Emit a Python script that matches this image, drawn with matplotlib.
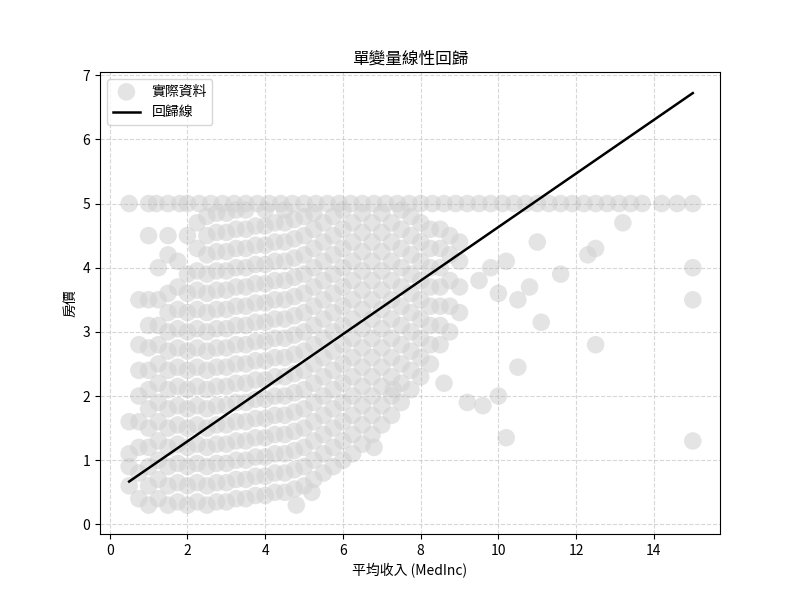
import matplotlib
matplotlib.use("Agg")
import matplotlib.pyplot as plt
import numpy as np

plt.rcParams['font.family'] = ['Noto Sans CJK TC', 'DejaVu Sans']
plt.rcParams['axes.unicode_minus'] = False

# dense cloud, column by column (MedInc, list of house values)
col_x = [0.5, 0.75, 1.0, 1.25, 1.5, 1.75, 2.0, 2.25, 2.5, 2.75, 3.0, 3.25, 3.5, 3.75,
         4.0, 4.25, 4.5, 4.75, 5.0, 5.25, 5.5, 5.75, 6.0, 6.25, 6.5, 6.75, 7.0, 7.25,
         7.5, 7.75, 8.0, 8.25, 8.5, 8.75, 9.0]
col_y = [
    [0.6, 0.9, 1.1, 1.6],
    [0.4, 0.8, 1.2, 1.6, 2.0, 2.4, 2.8, 3.5],
    [0.3, 0.6, 0.9, 1.2, 1.5, 1.8, 2.1, 2.4, 2.75, 3.1, 3.5, 4.5],
    [0.4, 0.7, 1.0, 1.3, 1.6, 1.9, 2.2, 2.5, 2.8, 3.1, 3.5, 4.0],
    [0.3, 0.6, 0.9, 1.2, 1.5, 1.8, 2.1, 2.4, 2.7, 3.0, 3.3, 3.6, 4.2, 4.5],
    [0.35, 0.65, 0.95, 1.25, 1.55, 1.85, 2.15, 2.45, 2.75, 3.05, 3.35, 3.7, 4.1],
    [0.3, 0.6, 0.9, 1.2, 1.5, 1.8, 2.1, 2.4, 2.7, 3.0, 3.3, 3.6, 3.9, 4.5],
    [0.35, 0.65, 0.95, 1.25, 1.55, 1.85, 2.15, 2.45, 2.75, 3.05, 3.35, 3.65, 3.95, 4.3, 4.7],
    [0.3, 0.6, 0.9, 1.2, 1.5, 1.8, 2.1, 2.4, 2.7, 3.0, 3.3, 3.6, 3.9, 4.2, 4.5, 4.8],
    [0.35, 0.65, 0.95, 1.25, 1.55, 1.85, 2.15, 2.45, 2.75, 3.05, 3.35, 3.65, 3.95, 4.25, 4.55, 4.85],
    [0.35, 0.65, 0.95, 1.25, 1.55, 1.85, 2.15, 2.45, 2.75, 3.05, 3.35, 3.65, 3.95, 4.25, 4.55, 4.85],
    [0.4, 0.7, 1.0, 1.3, 1.6, 1.9, 2.2, 2.5, 2.8, 3.1, 3.4, 3.7, 4.0, 4.3, 4.6, 4.9],
    [0.4, 0.7, 1.0, 1.3, 1.6, 1.9, 2.2, 2.5, 2.8, 3.1, 3.4, 3.7, 4.0, 4.3, 4.6, 4.9],
    [0.45, 0.75, 1.05, 1.35, 1.65, 1.95, 2.25, 2.55, 2.85, 3.15, 3.45, 3.75, 4.05, 4.35, 4.65],
    [0.45, 0.75, 1.05, 1.35, 1.65, 1.95, 2.25, 2.55, 2.85, 3.15, 3.45, 3.75, 4.05, 4.35, 4.65, 4.9],
    [0.5, 0.8, 1.1, 1.4, 1.7, 2.0, 2.3, 2.6, 2.9, 3.2, 3.5, 3.8, 4.1, 4.4, 4.7],
    [0.5, 0.8, 1.1, 1.4, 1.7, 2.0, 2.3, 2.6, 2.9, 3.2, 3.5, 3.8, 4.1, 4.4, 4.7, 4.9],
    [0.55, 0.85, 1.15, 1.45, 1.75, 2.05, 2.35, 2.65, 2.95, 3.25, 3.55, 3.85, 4.15, 4.45, 4.75],
    [0.6, 0.9, 1.2, 1.5, 1.8, 2.1, 2.4, 2.7, 3.0, 3.3, 3.6, 3.9, 4.2, 4.5, 4.8],
    [0.7, 1.0, 1.3, 1.6, 1.9, 2.2, 2.5, 2.8, 3.1, 3.4, 3.7, 4.0, 4.3, 4.6, 4.85],
    [0.8, 1.1, 1.4, 1.7, 2.0, 2.3, 2.6, 2.9, 3.2, 3.5, 3.8, 4.1, 4.4, 4.7],
    [0.9, 1.2, 1.5, 1.8, 2.1, 2.4, 2.7, 3.0, 3.3, 3.6, 3.9, 4.2, 4.5, 4.8],
    [1.0, 1.3, 1.6, 1.9, 2.2, 2.5, 2.8, 3.1, 3.4, 3.7, 4.0, 4.3, 4.6, 4.9],
    [1.1, 1.4, 1.7, 2.0, 2.3, 2.6, 2.9, 3.2, 3.5, 3.8, 4.1, 4.4, 4.7],
    [1.25, 1.55, 1.85, 2.15, 2.45, 2.75, 3.05, 3.35, 3.65, 3.95, 4.25, 4.55, 4.85],
    [1.4, 1.7, 2.0, 2.3, 2.6, 2.9, 3.2, 3.5, 3.8, 4.1, 4.4, 4.7],
    [1.55, 1.85, 2.15, 2.45, 2.75, 3.05, 3.35, 3.65, 3.95, 4.25, 4.55, 4.85],
    [1.7, 2.0, 2.3, 2.6, 2.9, 3.2, 3.5, 3.8, 4.1, 4.4, 4.7],
    [1.9, 2.2, 2.5, 2.8, 3.1, 3.4, 3.7, 4.0, 4.3, 4.6, 4.9],
    [2.1, 2.4, 2.7, 3.0, 3.3, 3.6, 3.9, 4.2, 4.5, 4.8],
    [2.3, 2.6, 2.9, 3.2, 3.5, 3.8, 4.1, 4.4, 4.7],
    [2.5, 2.8, 3.1, 3.4, 3.7, 4.0, 4.3, 4.6],
    [2.8, 3.1, 3.4, 3.7, 4.0, 4.3, 4.6],
    [3.0, 3.4, 3.8, 4.2, 4.5],
    [3.3, 3.7, 4.1, 4.4],
]

# capped values at 5.0
capped_x = [0.5, 1.0, 1.2, 1.5, 1.8, 2.0, 2.3, 2.6, 2.9, 3.2, 3.5, 3.8, 4.1, 4.4, 4.7, 5.0,
            5.3, 5.6, 5.9, 6.2, 6.5, 6.8, 7.1, 7.4, 7.7, 8.0, 8.3, 8.6, 8.9, 9.2, 9.5, 9.8,
            10.1, 10.4, 10.7, 11.0, 11.3, 11.6, 11.9, 12.2, 12.5, 12.8, 13.1, 13.4, 13.7,
            14.2, 14.6, 15.0]

# sparse outliers
out_x = [9.5, 9.8, 10.0, 10.2, 10.5, 10.8, 11.0, 11.6, 12.3, 12.5, 13.2, 15.0, 15.0, 15.0,
         10.2, 10.5, 12.5, 10.0, 9.6, 11.1, 8.6, 9.2, 7.3, 6.8, 5.2, 4.8]
out_y = [3.8, 4.0, 3.6, 4.1, 3.5, 3.7, 4.4, 3.9, 4.2, 4.3, 4.7, 4.0, 3.5, 1.3,
         1.35, 2.45, 2.8, 2.0, 1.85, 3.15, 2.2, 1.9, 2.1, 1.2, 0.5, 0.3]

# regression line
coef = 0.4175
intercept = 0.459
line_x = [0.5, 15.0]

xs, ys = [], []
for cx, cys in zip(col_x, col_y):
    for v in cys:
        xs.append(cx); ys.append(v)
xs += capped_x; ys += [5.0] * len(capped_x)
xs += out_x; ys += out_y

fig, ax = plt.subplots(figsize=(8, 6), dpi=100)
ax.scatter(xs, ys, s=160, color='lightgray', alpha=0.6, edgecolors='none', label='實際資料')
lx = np.array(line_x)
ax.plot(lx, coef * lx + intercept, color='black', linewidth=1.8, label='回歸線')
ax.set_title('單變量線性回歸')
ax.set_xlabel('平均收入 (MedInc)')
ax.set_ylabel('房價')
ax.grid(True, linestyle='--', alpha=0.5)
ax.set_xlim(-0.25, 15.7)
ax.set_ylim(-0.15, 7.05)
ax.legend(loc='upper left')
fig.savefig('out.png', dpi=100)
